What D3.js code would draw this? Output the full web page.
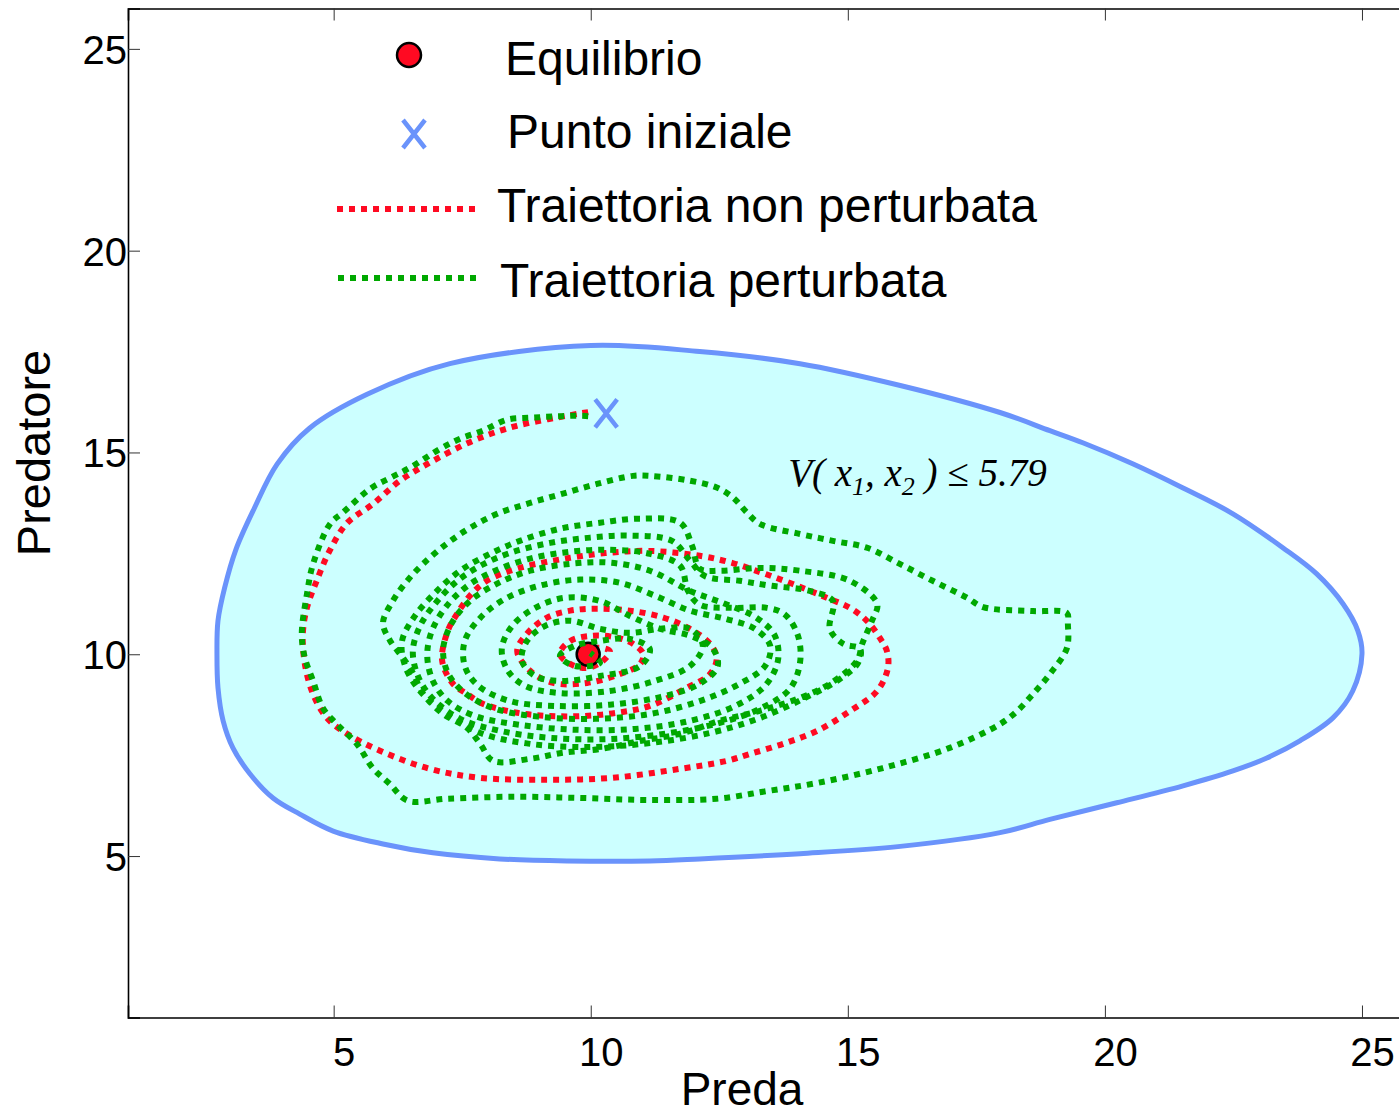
<!DOCTYPE html>
<html><head><meta charset="utf-8">
<script src="https://cdn.jsdelivr.net/npm/d3@7"></script>
<style>html,body{margin:0;padding:0;background:#fff;}svg{display:block;}</style>
</head><body>
<svg id="chart" width="1399" height="1116"></svg>
<script>
// ---------------- DATA ----------------
const xTicks = [5, 10, 15, 20, 25];
const yTicks = [5, 10, 15, 20, 25];
const xLabel = "Preda";
const yLabel = "Predatore";
const legendLabels = ["Equilibrio", "Punto iniziale", "Traiettoria non perturbata", "Traiettoria perturbata"];
const equilibrium = [9.95, 10.0];
const initialPoint = [10.3, 15.97];
const levelText = {V: "V( x", s1: "1", mid: ", x", s2: "2", end: " ) \u2264 5.79"};
const levelPos = [13.84, 14.17];

// level set V(x1,x2) <= 5.79 boundary
const regionBoundary = [
[10.00,17.65],[7.26,17.20],[5.65,16.44],[4.53,15.60],[3.90,14.71],[3.45,13.60],[3.10,12.60],[2.88,11.65],
[2.75,10.83],[2.73,10.01],[2.75,9.17],[2.85,8.35],[3.04,7.68],[3.37,7.04],[3.82,6.44],[4.34,6.04],[4.99,5.62],
[5.96,5.30],[6.93,5.08],[8.23,4.93],[9.54,4.88],[11.15,4.88],[12.12,4.93],[14.07,5.06],[16.02,5.24],[17.96,5.58],
[18.93,5.91],[20.23,6.32],[21.52,6.74],[22.49,7.11],[23.15,7.43],[23.80,7.86],[24.44,8.43],[24.82,9.09],[25.00,10.01],
[24.92,10.58],[24.63,11.25],[24.12,11.99],[23.46,12.64],[22.49,13.48],[21.52,14.12],[20.54,14.72],[19.57,15.24],
[18.93,15.54],[17.96,15.99],[16.02,16.66],[14.07,17.20],[12.12,17.50]
];

// unperturbed trajectory
const trajUnperturbed = [
[9.95,16.00],[8.56,15.66],[7.71,15.29],[6.93,14.79],[6.29,14.30],[5.77,13.73],[5.26,13.25],[4.92,12.56],[4.67,11.82],
[4.48,11.15],[4.40,10.50],[4.44,9.76],[4.60,9.01],[4.87,8.42],[5.26,8.03],[5.90,7.61],[6.87,7.16],[7.84,6.94],
[9.15,6.89],[10.43,6.94],[11.73,7.16],[12.65,7.36],[13.10,7.53],[13.74,7.78],[14.40,8.10],[15.04,8.59],[15.57,9.09],
[15.78,9.66],[15.76,10.08],[15.62,10.41],[15.37,10.83],[15.04,11.15],[14.59,11.40],[13.93,11.74],[13.35,12.01],
[12.76,12.26],[12.12,12.44],[11.15,12.56],[10.40,12.52],[9.60,12.39],[8.62,12.14],[7.98,11.82],[7.65,11.45],[7.40,11.00],
[7.22,10.58],[7.11,9.84],[7.32,9.27],[7.59,9.02],[7.91,8.77],[8.57,8.55],[9.21,8.47],[9.85,8.47],[10.51,8.55],[11.15,8.72],
[11.87,9.17],[12.32,9.51],[12.45,9.91],[12.32,10.26],[11.93,10.63],[11.41,10.91],[10.76,11.08],[10.12,11.13],[9.60,11.08],
[9.15,10.91],[8.76,10.51],[8.57,10.08],[8.82,9.59],[9.27,9.29],[9.93,9.29],[10.57,9.51],[10.96,9.76],[11.02,10.01],
[10.82,10.26],[10.51,10.41],[10.05,10.46],[9.60,10.33],[9.40,10.01],[9.60,9.76],[9.93,9.66],[10.24,9.84],[10.37,10.08],
[10.12,10.16],[9.95,10.00]
];

// perturbed trajectory
const trajPerturbed = [
[9.95,15.90],[9.73,15.91],[9.26,15.89],[8.82,15.86],[8.37,15.81],[7.90,15.54],[7.46,15.34],[7.07,15.09],[6.48,14.62],
[6.10,14.37],[5.71,14.10],[5.18,13.51],[4.93,13.23],[4.60,12.24],[4.48,11.49],[4.38,10.50],[4.44,9.91],[4.60,9.34],
[4.79,8.67],[5.06,8.27],[5.45,7.78],[5.76,7.18],[6.09,6.79],[6.44,6.37],[7.20,6.42],[8.49,6.47],[9.79,6.44],[11.09,6.39],
[12.45,6.42],[13.43,6.61],[14.40,6.81],[15.68,7.18],[16.98,7.68],[17.96,8.27],[18.29,8.59],[18.60,9.01],[18.93,9.51],
[19.26,10.15],[19.28,10.75],[19.26,11.02],[18.60,11.07],[17.63,11.17],[17.32,11.40],[16.65,11.82],[16.01,12.24],
[15.37,12.64],[14.71,12.81],[14.07,12.98],[13.29,13.23],[13.04,13.51],[12.77,13.88],[12.45,14.13],[11.93,14.30],
[11.15,14.42],[10.82,14.42],[10.12,14.22],[9.46,13.98],[8.82,13.75],[8.18,13.48],[7.65,13.13],[7.20,12.74],[6.74,12.24],
[6.43,11.82],[6.15,11.32],[5.96,10.78],
[6.10,10.33],[6.35,9.91],[6.54,9.54],[6.74,9.02],[7.13,8.52],[7.59,8.18],[7.85,7.78],[8.10,7.36],[8.82,7.41],[9.46,7.56],
[10.18,7.65],[10.96,7.85],[11.74,8.03],[12.51,8.35],[13.29,8.60],[14.07,8.92],[14.65,9.27],[15.18,9.84],[15.28,10.26],
[15.47,10.83],[15.57,11.25],[15.04,11.82],[14.07,12.07],[13.29,12.14],[12.51,12.07],[12.12,12.12],[11.97,12.69],
[11.74,13.26],[10.96,13.36],[10.18,13.26],[9.40,13.11],[8.62,12.81],[8.04,12.49],[7.46,12.07],[6.97,11.52],[6.58,10.95],
[6.33,10.33],[6.39,9.71],[6.68,9.09],
[7.17,8.55],[7.85,8.05],[8.82,7.78],[9.99,7.70],[11.15,7.80],[12.32,8.05],[13.29,8.42],[14.17,8.92],[14.85,9.39],
[15.20,9.79],[15.24,10.13],[14.91,10.26],[14.65,10.63],[14.71,11.32],[14.26,11.57],[13.49,11.70],[12.90,11.82],
[12.22,11.94],[11.93,12.32],[11.58,12.81],[10.76,12.94],[9.99,12.89],[9.21,12.76],[8.43,12.51],[7.85,12.19],
[7.36,11.77],[6.97,11.25],[6.68,10.70],[6.54,10.08],[6.64,9.46],[6.91,8.92],
[7.46,8.40],[8.24,8.10],[9.21,7.93],[10.37,7.90],[11.54,8.05],[12.51,8.30],[13.29,8.65],[13.87,9.14],[14.07,9.79],
[14.03,10.46],[13.78,10.98],[13.43,11.15],[12.77,11.15],[12.12,11.23],[11.89,11.57],[11.74,12.19],[11.15,12.49],
[10.37,12.59],[9.60,12.54],[8.82,12.37],[8.14,12.07],[7.61,11.70],[7.20,11.20],[6.91,10.58],[6.82,9.96],[6.93,9.34],
[7.22,8.84],
[7.75,8.47],[8.62,8.25],[9.69,8.13],[10.86,8.15],[11.93,8.35],[12.81,8.72],[13.39,9.22],[13.64,9.84],[13.58,10.46],
[13.23,10.90],[12.61,11.25],[11.93,11.57],[11.15,12.07],[10.37,12.27],[9.60,12.24],[8.82,12.07],[8.18,11.75],
[7.65,11.32],[7.30,10.78],[7.13,10.13],[7.22,9.54],[7.55,9.04],
[8.14,8.65],[9.01,8.45],[10.08,8.40],[11.15,8.52],[12.12,8.84],[12.90,9.27],[13.39,9.71],[13.49,10.21],[13.19,10.63],
[12.61,10.88],[11.93,11.08],[11.25,11.45],[10.57,11.77],[9.79,11.85],[9.01,11.70],[8.33,11.37],[7.85,10.90],
[7.55,10.33],[7.55,9.71],[7.81,9.22],
[8.43,8.84],[9.30,8.72],[10.37,8.75],[11.35,8.94],[12.12,9.27],[12.47,9.71],[12.36,10.16],[11.93,10.46],[11.35,10.63],
[10.76,10.95],[10.18,11.32],[9.50,11.40],[8.92,11.15],[8.47,10.70],[8.27,10.13],[8.39,9.59],[8.72,9.22],
[9.40,9.04],[10.37,9.09],[11.25,9.34],[11.93,9.71],[12.18,10.21],[11.93,10.63],[11.35,10.63],[10.76,10.53],
[10.18,10.63],[9.60,10.83],[9.11,10.70],[8.76,10.33],[8.66,9.84],[8.92,9.46],[9.40,9.34],
[10.18,9.46],[10.96,9.71],[11.15,10.13],[10.76,10.38],[10.18,10.33],[9.69,10.21],[9.40,9.96],[9.69,9.71],[10.18,9.79],
[9.99,10.03]
];

// ---------------- CHART ----------------
const svg = d3.select("#chart");
const x = d3.scaleLinear().domain([1, 26]).range([128, 1413.4]);
const y = d3.scaleLinear().domain([1, 26]).range([1017.5, 8.5]);

const C = {fill: "#ccffff", blue: "#6a93fb", red: "#ff0a22", green: "#00a800"};

// region
svg.append("path")
  .datum(regionBoundary)
  .attr("d", d3.line().x(d => x(d[0])).y(d => y(d[1])).curve(d3.curveCatmullRomClosed.alpha(0.5)))
  .attr("fill", C.fill).attr("stroke", C.blue).attr("stroke-width", 5);

// unperturbed
svg.append("path")
  .datum(trajUnperturbed)
  .attr("d", d3.line().x(d => x(d[0])).y(d => y(d[1])).curve(d3.curveCatmullRom.alpha(0.5)))
  .attr("fill", "none").attr("stroke", C.red).attr("stroke-width", 6)
  .attr("stroke-dasharray", "6 6");

// equilibrium
svg.append("circle").attr("cx", x(equilibrium[0])).attr("cy", y(equilibrium[1])).attr("r", 11.5)
  .attr("fill", C.red).attr("stroke", "#000").attr("stroke-width", 2.5);

// perturbed
svg.append("path")
  .datum(trajPerturbed)
  .attr("d", d3.line().x(d => x(d[0])).y(d => y(d[1])).curve(d3.curveCatmullRom.alpha(0.5)))
  .attr("fill", "none").attr("stroke", C.green).attr("stroke-width", 6)
  .attr("stroke-dasharray", "6 6");

// initial point marker
function xMark(g, cx, cy) {
  g.append("path")
    .attr("d", `M${cx-11},${cy-14}L${cx+11},${cy+14}M${cx+11},${cy-14}L${cx-11},${cy+14}`)
    .attr("stroke", C.blue).attr("stroke-width", 4.5).attr("fill", "none");
}
xMark(svg, x(initialPoint[0]), y(initialPoint[1]));

// annotation
const ann = svg.append("text")
  .attr("x", x(levelPos[0])).attr("y", y(levelPos[1]))
  .attr("font-family", "'Liberation Serif','Times New Roman',serif")
  .attr("font-style", "italic").attr("font-size", 39).attr("fill", "#000");
ann.append("tspan").text(levelText.V);
ann.append("tspan").attr("dy", 9).attr("font-size", 26).text(levelText.s1);
ann.append("tspan").attr("dy", -9).text(levelText.mid);
ann.append("tspan").attr("dy", 9).attr("font-size", 26).text(levelText.s2);
ann.append("tspan").attr("dy", -9).text(levelText.end);

// axes
const font = "'Liberation Sans', Arial, sans-serif";
const ax = svg.append("g").attr("transform", `translate(0,${y(1)})`)
  .call(d3.axisBottom(x).tickValues(xTicks).tickSize(-12).tickPadding(10));
const axT = svg.append("g").attr("transform", `translate(0,${y(26)})`)
  .call(d3.axisTop(x).tickValues(xTicks).tickSize(-12).tickFormat(""));
const ay = svg.append("g").attr("transform", `translate(${x(1)},0)`)
  .call(d3.axisLeft(y).tickValues(yTicks).tickSize(-12).tickPadding(1));
const ayR = svg.append("g").attr("transform", `translate(${x(26)},0)`)
  .call(d3.axisRight(y).tickValues(yTicks).tickSize(-12).tickFormat(""));
[ax, axT, ay, ayR].forEach(g => {
  g.select(".domain").attr("stroke", "#000").attr("stroke-width", 1.6);
  g.selectAll(".tick line").attr("stroke", "#333").attr("stroke-width", 1);
  g.selectAll(".tick text").attr("font-family", font).attr("font-size", 40).attr("fill", "#000");
});
ax.selectAll(".tick text").attr("dx", 10).attr("dy", "0.95em");
ay.selectAll(".tick text").attr("dy", "0.36em");

// axis labels
svg.append("text").attr("x", 742).attr("y", 1105).attr("text-anchor", "middle")
  .attr("font-family", font).attr("font-size", 46).text(xLabel);
svg.append("text").attr("transform", "translate(50,453) rotate(-90)").attr("text-anchor", "middle")
  .attr("font-family", font).attr("font-size", 47).text(yLabel);

// legend
const lg = svg.append("g");
const lf = 48;
lg.append("circle").attr("cx", 409).attr("cy", 55).attr("r", 12).attr("fill", C.red)
  .attr("stroke", "#000").attr("stroke-width", 2.5);
lg.append("text").attr("x", 505).attr("y", 75).attr("font-family", font).attr("font-size", lf).text(legendLabels[0]);
xMark(lg, 414, 134);
lg.append("text").attr("x", 507).attr("y", 148).attr("font-family", font).attr("font-size", lf).text(legendLabels[1]);
lg.append("line").attr("x1", 337).attr("x2", 477).attr("y1", 209).attr("y2", 209)
  .attr("stroke", C.red).attr("stroke-width", 6).attr("stroke-dasharray", "6 6");
lg.append("text").attr("x", 497).attr("y", 222).attr("font-family", font).attr("font-size", lf).text(legendLabels[2]);
lg.append("line").attr("x1", 338).attr("x2", 478).attr("y1", 278).attr("y2", 278)
  .attr("stroke", C.green).attr("stroke-width", 6).attr("stroke-dasharray", "6 6");
lg.append("text").attr("x", 500).attr("y", 297).attr("font-family", font).attr("font-size", lf).text(legendLabels[3]);
</script>
</body></html>
